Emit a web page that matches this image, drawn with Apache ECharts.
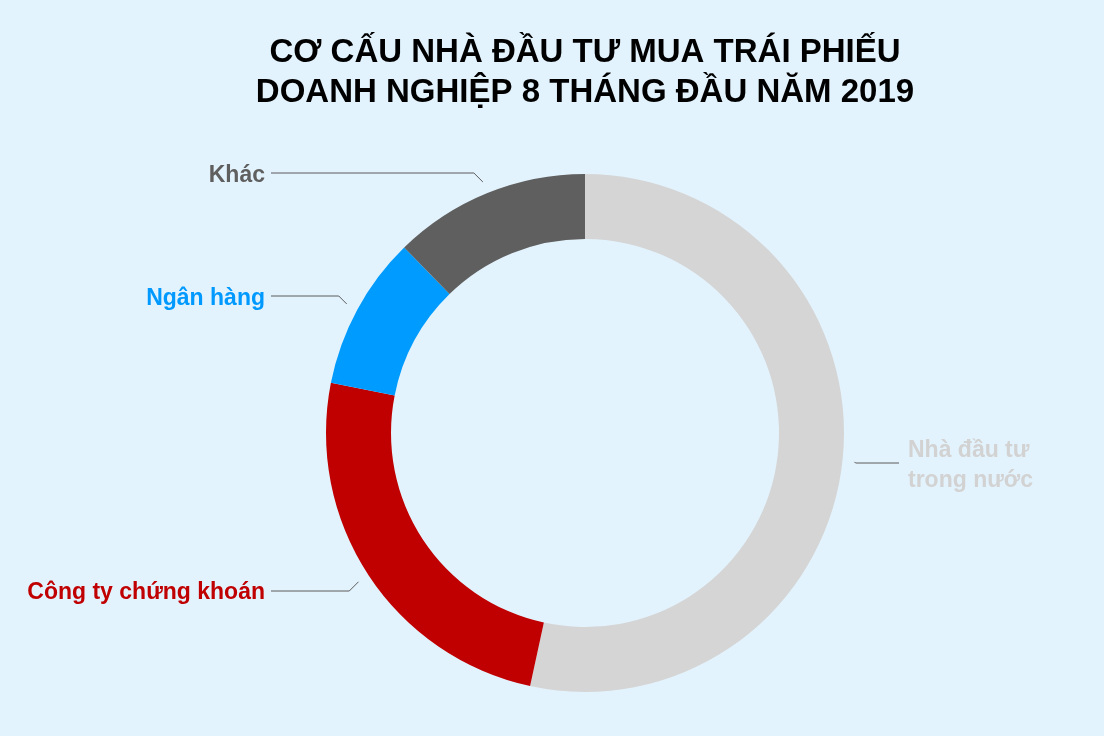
<!DOCTYPE html>
<html>
<head>
<meta charset="utf-8">
<script src="https://cdn.jsdelivr.net/npm/echarts@6/dist/echarts.min.js"></script>
<style>
html,body{margin:0;padding:0;background:#E3F3FD;}
#c{width:1104px;height:736px;}
</style>
</head>
<body>
<div id="c"></div>
<script>
const categories = ['Nhà đầu tư\ntrong nước', 'Công ty chứng khoán', 'Ngân hàng', 'Khác'];
const values = [53.4, 24.7, 9.6, 12.3];
const sliceColors = ['#D5D5D5', '#C00000', '#009BFF', '#5F5F5F'];
const labelColors = ['#D2D2D2', '#C00000', '#0099FF', '#5F5F5F'];

const FONT = "'Liberation Sans', Arial, Helvetica, sans-serif";
const CX = 585, CY = 433, R_IN = 194, R_OUT = 259;

// label layout per slice
const labelLayouts = [
  { x: 908, y: 466, lineY: 463, align: 'left', endX: 899 },
  { x: 265, y: 593, lineY: 591, align: 'right', endX: 271 },
  { x: 265, y: 299, lineY: 296, align: 'right', endX: 271 },
  { x: 265, y: 176, lineY: 173, align: 'right', endX: 271 }
];

const total = values.reduce((a, b) => a + b, 0);
function midAngle(i) {
  let s = 0;
  for (let k = 0; k < i; k++) s += values[k];
  return ((s + values[i] / 2) / total) * 2 * Math.PI; // clockwise from top
}

const chart = echarts.init(document.getElementById('c'));
chart.setOption({
  backgroundColor: '#E3F3FD',
  title: {
    text: 'CƠ CẤU NHÀ ĐẦU TƯ MUA TRÁI PHIẾU\nDOANH NGHIỆP 8 THÁNG ĐẦU NĂM 2019',
    left: 585,
    top: 33,
    padding: 0,
    textAlign: 'center',
    textStyle: {
      fontFamily: FONT,
      fontWeight: 'bold',
      fontSize: 33,
      lineHeight: 40,
      color: '#000'
    }
  },
  series: [{
    type: 'pie',
    center: [CX, CY],
    radius: [R_IN, R_OUT],
    startAngle: 90,
    clockwise: true,
    avoidLabelOverlap: false,
    silent: true,
    data: categories.map((c, i) => ({
      name: c,
      value: values[i],
      itemStyle: { color: sliceColors[i] },
      label: { color: labelColors[i] }
    })),
    label: {
      show: true,
      position: 'outside',
      formatter: '{b}',
      fontFamily: FONT,
      fontWeight: 'bold',
      fontSize: 23,
      lineHeight: 30
    },
    labelLine: {
      show: true,
      lineStyle: { color: '#5a5a5a', width: 1 }
    },
    labelLayout: function (p) {
      const L = labelLayouts[p.dataIndex];
      const a = midAngle(p.dataIndex);
      const sx = CX + Math.sin(a) * (R_OUT + 12);
      const sy = CY - Math.cos(a) * (R_OUT + 12);
      const dir = L.align === 'right' ? -1 : 1;
      const dy = Math.abs(L.lineY - sy);
      const bx = sx + dir * dy;
      return {
        x: L.x,
        y: L.y,
        align: L.align,
        verticalAlign: 'middle',
        labelLinePoints: [[sx, sy], [bx, L.lineY], [L.endX, L.lineY]]
      };
    }
  }]
});
</script>
</body>
</html>
